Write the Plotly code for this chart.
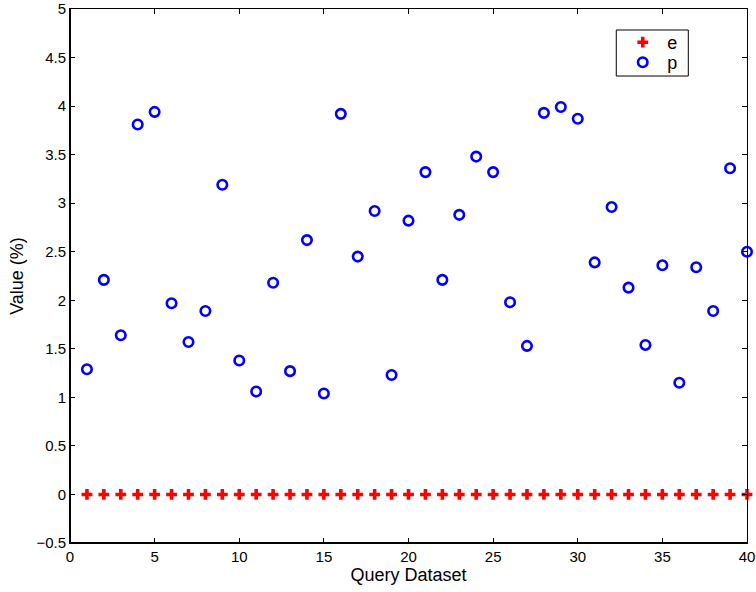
import plotly.graph_objects as go

x_vals = list(range(1, 41))
e_vals = [0.0] * 40
p_vals = [1.29, 2.21, 1.64, 3.81, 3.94, 1.97, 1.57, 1.89, 3.19, 1.38,
          1.06, 2.18, 1.27, 2.62, 1.04, 3.92, 2.45, 2.92, 1.23, 2.82,
          3.32, 2.21, 2.88, 3.48, 3.32, 1.98, 1.53, 3.93, 3.99, 3.87,
          2.39, 2.96, 2.13, 1.54, 2.36, 1.15, 2.34, 1.89, 3.36, 2.50]
x_ticks = [0, 5, 10, 15, 20, 25, 30, 35, 40]
y_ticks = [-0.5, 0, 0.5, 1, 1.5, 2, 2.5, 3, 3.5, 4, 4.5, 5]
y_tick_text = ["\u22120.5", "0", "0.5", "1", "1.5", "2", "2.5", "3", "3.5", "4", "4.5", "5"]

font_family = "Liberation Sans, Arial, Helvetica, sans-serif"

fig = go.Figure()
fig.add_trace(go.Scatter(
    x=x_vals, y=e_vals, mode="markers", name="e", legend="legend",
    marker=dict(symbol="cross", size=9, color="#ff0000", line=dict(width=0)),
    cliponaxis=False))
fig.add_trace(go.Scatter(
    x=x_vals, y=p_vals, mode="markers", name="p", legend="legend2",
    marker=dict(symbol="circle-open", size=9.5, color="#0000ff", line=dict(width=2.6, color="#0000ff")),
    cliponaxis=False))

axis_common = dict(
    showgrid=False, zeroline=False, showline=True, linecolor="black", linewidth=1,
    mirror="ticks", ticks="inside", ticklen=5, tickcolor="black", tickwidth=1,
    tickfont=dict(family=font_family, size=15, color="black"),
    automargin=False,
)

legend_common = dict(
    xanchor="left", yanchor="top",
    borderwidth=0, bgcolor="rgba(0,0,0,0)",
    font=dict(family=font_family, size=18, color="black"),
    itemwidth=39,
)

fig.update_layout(
    width=756, height=592,
    margin=dict(l=70, r=9, t=9, b=49),
    paper_bgcolor="white", plot_bgcolor="white",
    font=dict(family=font_family, size=15, color="black"),
    showlegend=True,
    legend=dict(x=0.8098, y=0.9719, **legend_common),
    legend2=dict(x=0.8098, y=0.9344, **legend_common),
    xaxis=dict(range=[0, 40], tickvals=x_ticks,
               title=dict(text="Query Dataset", standoff=2, font=dict(size=18)),
               **axis_common),
    yaxis=dict(range=[-0.5, 5], tickvals=y_ticks, ticktext=y_tick_text,
               title=dict(text="Value (%)", standoff=8, font=dict(size=18)),
               **axis_common),
    shapes=[
        dict(type="rect", xref="paper", yref="paper", x0=0.8069, x1=0.9133, y0=0.8745, y1=0.9607,
             line=dict(color="black", width=1), fillcolor="white", layer="below"),
        dict(type="line", xref="paper", yref="paper", x0=0, x1=1, y0=0, y1=0,
             line=dict(color="black", width=2), layer="above"),
        dict(type="line", xref="paper", yref="paper", x0=0, x1=0, y0=0, y1=1,
             line=dict(color="black", width=2), layer="above"),
    ],
)

fig.write_html("out.html")
